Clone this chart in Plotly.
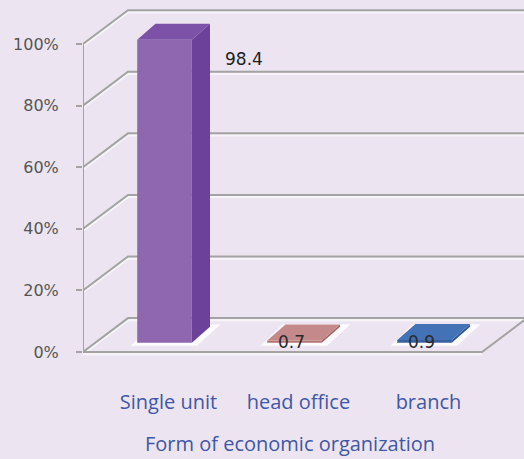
import plotly.graph_objects as go

# ---------------- data ----------------
categories = ["Single unit", "head office", "branch"]
values = [98.4, 0.7, 0.9]
value_labels = ["98.4", "0.7", "0.9"]
y_ticks = [0, 20, 40, 60, 80, 100]
y_tick_labels = ["0%", "20%", "40%", "60%", "80%", "100%"]
axis_title = "Form of economic organization"

front_colors = ["#8f67b1", "#b47573", "#36629f"]
side_colors = ["#6b419a", "#a4605f", "#2f5894"]
top_colors = ["#7c52a8", "#c4898a", "#4472b6"]

# ---------------- geometry / style ----------------
BG = "#ece5f1"
X_MIN, X_MAX = -0.527, 2.865
Y_MIN, Y_MAX = -4.22, 114.29
WALL_DX, WALL_DY = 0.346, 11.0      # depth of the 3-D box
BAR_OFF_X, BAR_OFF_Y = 0.10, 3.0    # front plane of bars inside the box
BAR_DX, BAR_DY = 0.14, 5.2          # bar thickness (depth)
BAR_W = 0.42
FLOOR_RIGHT = len(categories) - 1 + 0.542
GRID = "#a3a3a3"

fig = go.Figure()
shapes = []

# back-wall gridlines and left-wall diagonals
for t in y_ticks:
    shapes.append(dict(type="path", xref="x", yref="y", layer="below",
                       path=f"M {X_MIN},{t-0.7} L {X_MIN+WALL_DX},{t+WALL_DY-0.7} L {X_MAX+1},{t+WALL_DY-0.7}",
                       line=dict(color="#f7f5f9", width=2)))
    shapes.append(dict(type="path", xref="x", yref="y", layer="below",
                       path=f"M {X_MIN},{t} L {X_MIN+WALL_DX},{t+WALL_DY} L {X_MAX+1},{t+WALL_DY}",
                       line=dict(color=GRID, width=2)))

# floor front edge and right edge
shapes.append(dict(type="path", xref="x", yref="y", layer="below",
                   path=f"M {X_MIN},{-0.7} L {FLOOR_RIGHT},{-0.7}",
                   line=dict(color="#f7f5f9", width=2)))
shapes.append(dict(type="path", xref="x", yref="y", layer="below",
                   path=f"M {X_MIN},0 L {FLOOR_RIGHT},0 L {FLOOR_RIGHT+WALL_DX},{WALL_DY}",
                   line=dict(color=GRID, width=2)))
# front vertical axis
shapes.append(dict(type="line", xref="x", yref="y", layer="below",
                   x0=X_MIN, x1=X_MIN, y0=y_ticks[0], y1=y_ticks[-1],
                   line=dict(color=GRID, width=2)))

# white glow beneath each bar
for i, v in enumerate(values):
    cx = i + BAR_OFF_X
    x0, x1 = cx - BAR_W / 2, cx + BAR_W / 2
    yb = BAR_OFF_Y
    shapes.append(dict(type="path", xref="x", yref="y", layer="below",
                       path=(f"M {x0-0.05},{yb-1.0} L {x1+0.04},{yb-1.0} "
                             f"L {x1+BAR_DX+0.08},{yb+BAR_DY+0.8} L {x0+BAR_DX-0.02},{yb+BAR_DY+0.8} Z"),
                       fillcolor="rgba(255,255,255,0.85)", line=dict(width=0)))

# front faces via bar trace
fig.add_trace(go.Bar(
    x=[i + BAR_OFF_X for i in range(len(categories))],
    y=values, base=BAR_OFF_Y, width=BAR_W,
    marker=dict(color=front_colors, line=dict(width=0)),
    showlegend=False, hoverinfo="skip"))

# side and top faces
for i, v in enumerate(values):
    cx = i + BAR_OFF_X
    x0, x1 = cx - BAR_W / 2, cx + BAR_W / 2
    yb, yt = BAR_OFF_Y, BAR_OFF_Y + v
    fig.add_trace(go.Scatter(
        x=[x1, x1 + BAR_DX, x1 + BAR_DX, x1, x1],
        y=[yb, yb + BAR_DY, yt + BAR_DY, yt, yb],
        fill="toself", fillcolor=side_colors[i], mode="lines",
        line=dict(width=0, color=side_colors[i]), showlegend=False, hoverinfo="skip"))
    fig.add_trace(go.Scatter(
        x=[x0, x1, x1 + BAR_DX, x0 + BAR_DX, x0],
        y=[yt, yt, yt + BAR_DY, yt + BAR_DY, yt],
        fill="toself", fillcolor=top_colors[i], mode="lines",
        line=dict(width=0, color=top_colors[i]), showlegend=False, hoverinfo="skip"))

# value labels
annotations = []
for i, v in enumerate(values):
    cx = i + BAR_OFF_X
    if v > 50:
        annotations.append(dict(x=cx + BAR_W / 2 + BAR_DX + 0.1, y=BAR_OFF_Y + v - 2.3,
                                xref="x", yref="y", text=value_labels[i], showarrow=False,
                                xanchor="left", yanchor="top",
                                font=dict(family="DejaVu Sans", size=17, color="#1e1e1e")))
    else:
        annotations.append(dict(x=cx - 0.02, y=BAR_OFF_Y + v - 4.4,
                                xref="x", yref="y", text=value_labels[i], showarrow=False,
                                xanchor="center", yanchor="bottom",
                                font=dict(family="DejaVu Sans", size=17, color="#2a2a2a")))

annotations.append(dict(x=(290 - 83) / 441, y=-(458 - 365) / 365, xref="paper", yref="paper",
                        text=axis_title, showarrow=False, xanchor="center", yanchor="bottom",
                        borderpad=0,
                        font=dict(family="Open Sans", size=20, color="#3f57a6")))

fig.update_layout(
    width=524, height=459,
    margin=dict(l=83, r=0, t=0, b=94),
    paper_bgcolor=BG, plot_bgcolor=BG,
    shapes=shapes, annotations=annotations,
    showlegend=False,
    xaxis=dict(range=[X_MIN, X_MAX], tickvals=[i + 0.13 for i in range(len(categories))],
               ticktext=categories, showgrid=False, zeroline=False, showline=False,
               ticks="", ticklabelstandoff=23,
               tickfont=dict(family="Open Sans", size=20, color="#3f57a6")),
    yaxis=dict(range=[Y_MIN, Y_MAX], tickvals=y_ticks, ticktext=y_tick_labels,
               showgrid=False, zeroline=False, showline=False,
               ticks="outside", ticklen=6, tickwidth=2, tickcolor=GRID,
               ticklabelstandoff=14,
               tickfont=dict(family="DejaVu Sans", size=16, color="#555555")),
)

fig.write_html("out.html", config={"displayModeBar": False},
               post_script="document.body.style.margin='0';document.body.style.overflow='hidden';")
